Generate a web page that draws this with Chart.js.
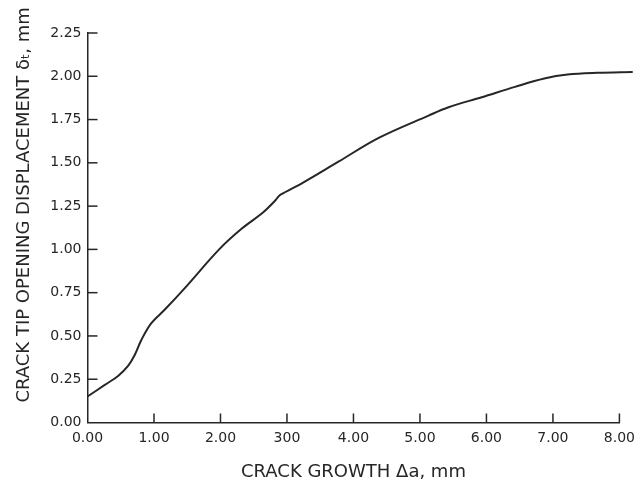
<!DOCTYPE html>
<html>
<head>
<meta charset="utf-8">
<script src="https://cdn.jsdelivr.net/npm/chart.js@4.4.1/dist/chart.umd.min.js"></script>
<style>
  html, body { margin: 0; padding: 0; background: #fff; }
  canvas { display: block; }
</style>
</head>
<body>
<canvas id="crackChart" width="642" height="481"></canvas>
<script>
const crackGrowth = [0, 0.26, 0.46, 0.61, 0.71, 0.81, 0.96, 1.16, 1.46, 1.98, 2.33, 2.63, 2.83, 2.87, 2.91, 3.23, 3.78, 4.38, 5.13, 5.43, 5.93, 6.43, 6.87, 7.22, 7.67, 8.2];
const ctodValues = [0.15, 0.217, 0.269, 0.327, 0.39, 0.477, 0.574, 0.651, 0.775, 1.0, 1.123, 1.21, 1.285, 1.305, 1.318, 1.383, 1.508, 1.644, 1.773, 1.821, 1.879, 1.939, 1.987, 2.01, 2.02, 2.025];

const xTickLabels = ['0.00', '1.00', '2.00', '300', '4.00', '5.00', '6.00', '7.00', '8.00'];
const yTickLabels = ['0.00', '0.25', '0.50', '0.75', '1.00', '1.25', '1.50', '1.75', '2.00', '2.25'];

const xTitle = 'CRACK GROWTH \u0394a, mm';
const yTitle = '        CRACK TIP OPENING DISPLACEMENT \u03b4\u209c, mm';

const ink = '#262626';
const fontFamily = '"DejaVu Sans", "Noto Sans", sans-serif';

// ticks in the original point inward, so draw them over the plot
const innerTicks = {
    id: 'innerTicks',
    afterDraw(chart) {
        const { ctx, scales: { x, y } } = chart;
        ctx.save();
        ctx.strokeStyle = ink;
        ctx.lineWidth = 1.5;
        x.ticks.forEach((t, i) => {
            if (i === 0) return;
            const px = x.getPixelForTick(i);
            ctx.beginPath();
            ctx.moveTo(px, x.top);
            ctx.lineTo(px, x.top - 9);
            ctx.stroke();
        });
        y.ticks.forEach((t, i) => {
            if (i === 0) return;
            const py = y.getPixelForTick(i);
            ctx.beginPath();
            ctx.moveTo(y.right, py);
            ctx.lineTo(y.right + 10, py);
            ctx.stroke();
        });
        ctx.restore();
    }
};

const points = crackGrowth.map((v, i) => ({ x: v, y: ctodValues[i] }));

new Chart(document.getElementById('crackChart'), {
    type: 'line',
    data: {
        datasets: [{
            data: points,
            borderColor: ink,
            borderWidth: 2,
            pointRadius: 0,
            fill: false,
            tension: 0.35,
            clip: false
        }]
    },
    options: {
        responsive: false,
        animation: false,
        layout: { padding: { top: 33, right: 20, bottom: 0, left: 0 } },
        plugins: {
            legend: { display: false },
            tooltip: { enabled: false }
        },
        scales: {
            x: {
                type: 'linear',
                min: 0,
                max: 8,
                grid: { display: false, drawTicks: false },
                border: { display: true, color: ink, width: 1.5 },
                ticks: {
                    stepSize: 1,
                    padding: 7,
                    color: ink,
                    font: { family: fontFamily, size: 14 },
                    maxRotation: 0,
                    callback: (v, i) => xTickLabels[i]
                },
                title: {
                    display: true,
                    text: xTitle,
                    color: ink,
                    font: { family: fontFamily, size: 18, lineHeight: 1 },
                    padding: { top: 0, bottom: 0 }
                },
                afterFit(scale) { scale.height = 58.5; }
            },
            y: {
                min: 0,
                max: 2.25,
                grid: { display: false, drawTicks: false },
                border: { display: true, color: ink, width: 1.5 },
                ticks: {
                    stepSize: 0.25,
                    padding: 6,
                    color: ink,
                    font: { family: fontFamily, size: 14 },
                    callback: (v, i) => yTickLabels[i]
                },
                title: {
                    display: true,
                    text: yTitle,
                    color: ink,
                    font: { family: fontFamily, size: 18, lineHeight: 1 },
                    padding: { top: 15, bottom: 0 }
                },
                afterFit(scale) { scale.width = 87.5; }
            }
        }
    },
    plugins: [innerTicks]
});
</script>
</body>
</html>
